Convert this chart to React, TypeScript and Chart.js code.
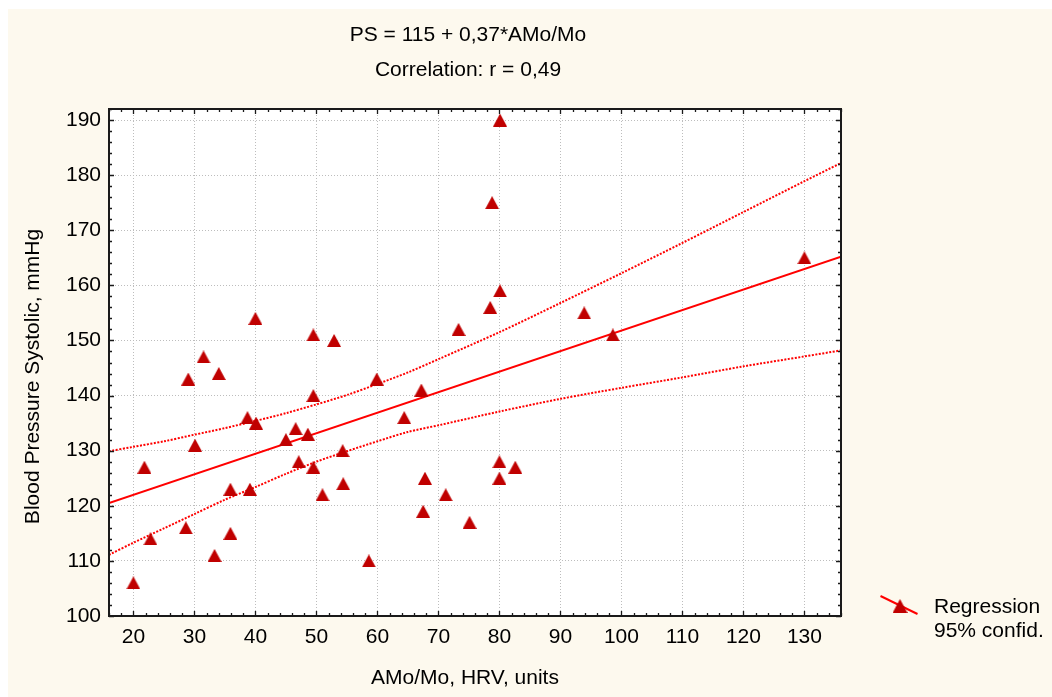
import React, { useEffect, useRef } from 'react';
import { Chart, registerables } from 'chart.js';

Chart.register(...registerables);

// ---- data ----
const xValues = [20, 21.8, 22.8, 28.6, 29.0, 30.1, 31.5, 33.3, 34.0, 35.9, 35.9, 38.7, 39.1, 40.0, 40.1, 45.0, 46.6, 47.1, 48.6, 49.5, 49.5, 49.5, 51.0, 52.9, 54.3, 54.4, 58.6, 59.9, 64.4, 67.2, 67.5, 67.8, 71.2, 73.3, 75.1, 78.5, 78.8, 80.1, 80.1, 80.0, 80.0, 82.6, 93.9, 98.6, 130.0];
const yValues = [106, 127, 114, 116, 143, 131, 147, 111, 144, 123, 115, 136, 123, 154, 135, 132, 134, 128, 133, 151, 140, 127, 122, 150, 130, 124, 110, 143, 136, 141, 119, 125, 122, 152, 117, 156, 175, 190, 159, 128, 125, 127, 155, 151, 165];

const regressionX = [16, 136];
const regressionY = [120.5, 165.2];

const bandX = [16, 20, 25, 30, 35, 40, 45, 50, 55, 60, 65, 70, 80, 90, 100, 110, 120, 130, 136];
const upperBand = [129.9, 130.7, 131.7, 132.9, 134.1, 135.4, 136.8, 138.4, 140.1, 142.1, 144.2, 146.6, 151.5, 156.8, 162.2, 167.7, 173.3, 178.9, 182.2];
const lowerBand = [111.1, 113.3, 115.9, 118.5, 121.1, 123.4, 125.8, 128.0, 129.9, 131.7, 133.4, 134.6, 137.1, 139.4, 141.4, 143.3, 145.3, 147.1, 148.2];

const xRange = [16, 136];
const yRange = [100, 192];
const xTicks = [20, 30, 40, 50, 60, 70, 80, 90, 100, 110, 120, 130];
const yTicks = [100, 110, 120, 130, 140, 150, 160, 170, 180, 190];
const majorStep = 10;
const minorStep = 2;

const titleLines = ['PS = 115 + 0,37*AMo/Mo', 'Correlation: r = 0,49'];
const xTitle = 'AMo/Mo, HRV, units';
const yTitle = 'Blood Pressure Systolic, mmHg';
const legendLines = ['Regression', '95% confid.'];

const FONT = '"Liberation Sans", Arial, sans-serif';
const FONT_SIZE = 21;
const MARKER = '#c00000';
const LINE = '#ff0000';
const BG = '#fdf9ee';

function makeTriangle(w: number, h: number): HTMLCanvasElement {
  const c = document.createElement('canvas');
  c.width = w;
  c.height = h;
  const ctx = c.getContext('2d')!;
  ctx.fillStyle = MARKER;
  ctx.beginPath();
  ctx.moveTo(w / 2, 0);
  ctx.lineTo(w, h);
  ctx.lineTo(0, h);
  ctx.closePath();
  ctx.fill();
  return c;
}

export default function App() {
  const ref = useRef<HTMLCanvasElement | null>(null);

  useEffect(() => {
    if (!ref.current) return;
    const tri = makeTriangle(14, 13);
    const legendTri = makeTriangle(15, 14);

    const framePlugin = {
      id: 'frame',
      beforeDraw(chart: any) {
        const { ctx, chartArea: a } = chart;
        ctx.save();
        ctx.fillStyle = '#ffffff';
        ctx.fillRect(a.left, a.top, a.right - a.left, a.bottom - a.top);
        ctx.restore();
      },
      afterDatasetsDraw(chart: any) {
        const { ctx, chartArea: a, scales } = chart;
        const xs = scales.x;
        const ys = scales.y;
        ctx.save();
        ctx.strokeStyle = '#1a1a1a';
        ctx.lineWidth = 1.3;
        ctx.beginPath();
        for (let v = Math.ceil(xs.min / minorStep) * minorStep; v <= xs.max; v += minorStep) {
          const px = Math.round(xs.getPixelForValue(v)) + 0.5;
          const len = v % majorStep === 0 ? 5 : 3;
          ctx.moveTo(px, a.bottom);
          ctx.lineTo(px, a.bottom - len);
          ctx.moveTo(px, a.top);
          ctx.lineTo(px, a.top + len);
        }
        for (let v = Math.ceil(ys.min / minorStep) * minorStep; v <= ys.max; v += minorStep) {
          const py = Math.round(ys.getPixelForValue(v)) + 0.5;
          const len = v % majorStep === 0 ? 5 : 3;
          ctx.moveTo(a.left, py);
          ctx.lineTo(a.left + len, py);
          ctx.moveTo(a.right, py);
          ctx.lineTo(a.right - len, py);
        }
        ctx.stroke();
        ctx.lineWidth = 2;
        ctx.strokeRect(a.left, a.top, a.right - a.left, a.bottom - a.top);
        ctx.restore();
      },
      afterDraw(chart: any) {
        const { ctx, chartArea: a } = chart;
        const cx = (a.left + a.right) / 2;
        ctx.save();
        ctx.fillStyle = '#000';
        ctx.font = `${FONT_SIZE}px ${FONT}`;
        ctx.textBaseline = 'middle';
        ctx.textAlign = 'center';
        ctx.fillText(titleLines[0], cx - 7, 26);
        ctx.fillText(titleLines[1], cx - 7, 61);
        ctx.fillText(xTitle, cx - 10, 669);
        ctx.save();
        ctx.translate(25, (a.top + a.bottom) / 2 + 14);
        ctx.rotate(-Math.PI / 2);
        ctx.fillText(yTitle, 0, 0);
        ctx.restore();
        // legend
        ctx.strokeStyle = LINE;
        ctx.lineWidth = 2;
        ctx.beginPath();
        ctx.moveTo(872.5, 587);
        ctx.lineTo(909.5, 605);
        ctx.stroke();
        ctx.drawImage(legendTri, 892 - 7.5, 597 - 7);
        ctx.textAlign = 'left';
        ctx.fillText(legendLines[0], 926, 598);
        ctx.fillText(legendLines[1], 926, 622);
        ctx.restore();
      },
    };

    const chart = new Chart(ref.current, {
      type: 'scatter',
      data: {
        datasets: [
          {
            type: 'scatter',
            label: 'Data',
            data: xValues.map((x, i) => ({ x, y: yValues[i] })),
            pointStyle: tri as any,
            pointRadius: 7,
            order: 0,
          },
          {
            type: 'line',
            label: 'Regression',
            data: regressionX.map((x, i) => ({ x, y: regressionY[i] })),
            borderColor: LINE,
            borderWidth: 2,
            pointRadius: 0,
            fill: false,
            order: 1,
          },
          {
            type: 'line',
            label: 'Upper 95%',
            data: bandX.map((x, i) => ({ x, y: upperBand[i] })),
            borderColor: LINE,
            borderWidth: 2,
            borderDash: [2, 1.5],
            pointRadius: 0,
            tension: 0.3,
            fill: false,
            order: 1,
          },
          {
            type: 'line',
            label: 'Lower 95%',
            data: bandX.map((x, i) => ({ x, y: lowerBand[i] })),
            borderColor: LINE,
            borderWidth: 2,
            borderDash: [2, 1.5],
            pointRadius: 0,
            tension: 0.3,
            fill: false,
            order: 1,
          },
        ],
      },
      options: {
        responsive: false,
        animation: false,
        layout: { padding: { left: 0, top: 100, right: 211, bottom: 0 } },
        plugins: {
          legend: { display: false },
          title: { display: false },
          tooltip: { enabled: false },
        },
        scales: {
          x: {
            type: 'linear',
            position: 'bottom',
            min: xRange[0],
            max: xRange[1],
            afterFit: (s: any) => { s.height = 81; },
            afterBuildTicks: (s: any) => { s.ticks = xTicks.map((value) => ({ value })); },
            ticks: {
              padding: 9,
              color: '#000',
              font: { family: FONT, size: FONT_SIZE },
              maxRotation: 0,
              autoSkip: false,
            },
            grid: { color: '#bdbdbd', lineWidth: 1, drawTicks: false },
            border: { display: false, dash: [1, 2] },
          },
          y: {
            type: 'linear',
            position: 'left',
            min: yRange[0],
            max: yRange[1],
            afterFit: (s: any) => { s.width = 101; },
            afterBuildTicks: (s: any) => { s.ticks = yTicks.map((value) => ({ value })); },
            ticks: {
              padding: 8,
              color: '#000',
              font: { family: FONT, size: FONT_SIZE },
              autoSkip: false,
            },
            grid: { color: '#bdbdbd', lineWidth: 1, drawTicks: false },
            border: { display: false, dash: [1, 2] },
          },
        },
      },
      plugins: [framePlugin],
    });
    return () => chart.destroy();
  }, []);

  return (
    <div style={{ position: 'fixed', left: 8, top: 9, width: 1044, height: 688, background: BG }}>
      <canvas ref={ref} width={1044} height={688} style={{ display: 'block' }} />
    </div>
  );
}
